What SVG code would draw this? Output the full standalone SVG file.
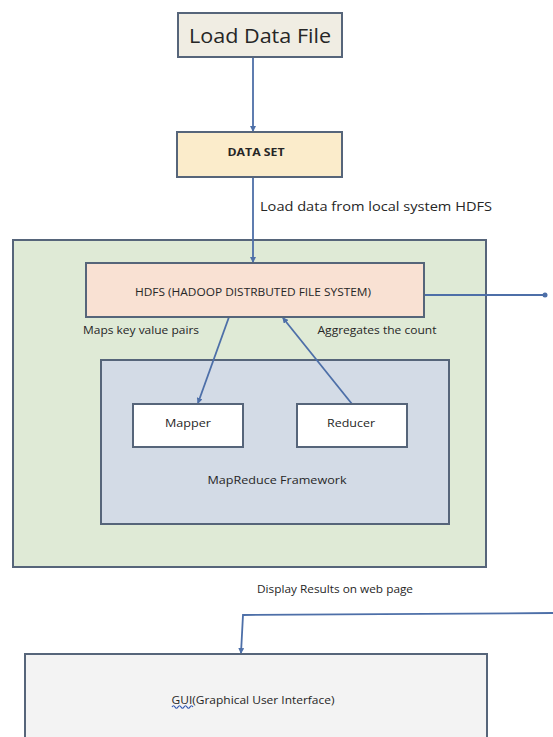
<svg xmlns="http://www.w3.org/2000/svg" width="553" height="737" viewBox="0 0 553 737">
<style>
text{font-family:"Open Sans","Liberation Sans",sans-serif;fill:#262626;text-anchor:middle}
.box{stroke:#56657a;stroke-width:2}
.con{stroke:#4d6fa8;stroke-width:1.8;fill:none}
.lbl{font-size:11px}
</style>
<defs>
<marker id="ah" markerWidth="6" markerHeight="6" refX="5" refY="3" orient="auto" markerUnits="userSpaceOnUse">
<path d="M0,0 L6,3 L0,6 z" fill="#4d6fa8"/>
</marker>
<marker id="dot" markerWidth="6" markerHeight="6" refX="3" refY="3" markerUnits="userSpaceOnUse">
<circle cx="3" cy="3" r="2.5" fill="#4d6fa8"/>
</marker>
</defs>
<rect width="553" height="737" fill="#ffffff"/>

<g id="hadoop-area">
<rect class="box" x="13" y="240" width="473" height="327" fill="#dfead6"/>
</g>
<g id="mapreduce">
<rect class="box" x="101" y="360" width="348" height="164" fill="#d3dbe6"/>
<text x="277" y="484" font-size="11.5" textLength="139" lengthAdjust="spacingAndGlyphs">MapReduce Framework</text>
</g>

<g id="connectors">
<line class="con" x1="253" y1="57" x2="253" y2="131" marker-end="url(#ah)"/>
<line class="con" x1="253" y1="177" x2="253" y2="262" marker-end="url(#ah)"/>
<line class="con" x1="229" y1="317" x2="198" y2="403" marker-end="url(#ah)"/>
<line class="con" x1="352" y1="404" x2="283" y2="318" marker-end="url(#ah)"/>
<line class="con" x1="424" y1="295" x2="545" y2="295" marker-end="url(#dot)"/>
<polyline class="con" points="553,613 243,615 241,653" marker-end="url(#ah)"/>
</g>

<g id="load-data-file">
<rect class="box" x="178" y="13" width="164" height="44" fill="#f0ede3"/>
<text x="260" y="43" font-size="20" textLength="142" lengthAdjust="spacingAndGlyphs">Load Data File</text>
</g>
<g id="data-set">
<rect class="box" x="177" y="132" width="165" height="45" fill="#fbeccb"/>
<text x="256" y="156" font-size="11" font-weight="bold" textLength="57" lengthAdjust="spacingAndGlyphs">DATA SET</text>
</g>
<text x="376" y="211" font-size="13" textLength="232" lengthAdjust="spacingAndGlyphs">Load data from local system HDFS</text>

<g id="hdfs">
<rect class="box" x="86" y="263" width="338" height="54" fill="#f9e1d3"/>
<text x="253" y="296" font-size="11" textLength="236" lengthAdjust="spacingAndGlyphs">HDFS (HADOOP DISTRBUTED FILE SYSTEM)</text>
</g>
<text class="lbl" x="141" y="334" textLength="116" lengthAdjust="spacingAndGlyphs">Maps key value pairs</text>
<text class="lbl" x="377" y="334" textLength="119" lengthAdjust="spacingAndGlyphs">Aggregates the count</text>

<g id="mapper">
<rect class="box" x="133" y="404" width="110" height="43" fill="#ffffff"/>
<text x="188" y="427" font-size="11.5" textLength="46" lengthAdjust="spacingAndGlyphs">Mapper</text>
</g>
<g id="reducer">
<rect class="box" x="297" y="404" width="110" height="43" fill="#ffffff"/>
<text x="351" y="427" font-size="11.5" textLength="48" lengthAdjust="spacingAndGlyphs">Reducer</text>
</g>

<text x="335" y="593" font-size="10.5" textLength="156" lengthAdjust="spacingAndGlyphs">Display Results on web page</text>

<g id="gui">
<rect class="box" x="25" y="654" width="462" height="100" fill="#f3f3f3"/>
<text x="253" y="704" font-size="11.5" textLength="163" lengthAdjust="spacingAndGlyphs">GUI(Graphical User Interface)</text>
<path d="M172,707 q1.5,-2.5 3,0 t3,0 t3,0 t3,0 t3,0 t3,0 t3,0" stroke="#2f56b0" stroke-width="1.2" fill="none"/>
</g>
</svg>
